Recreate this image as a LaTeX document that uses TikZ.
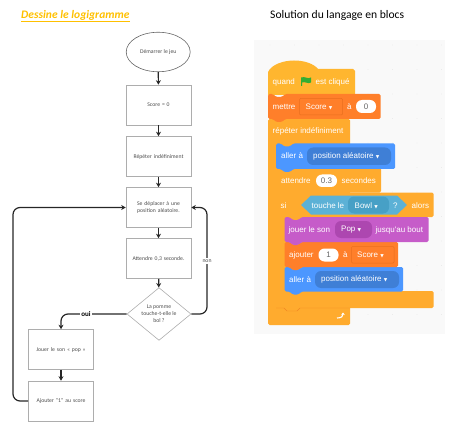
\documentclass[tikz,border=0pt]{standalone}
\usepackage{fontspec}
\setmainfont{Carlito}
\newfontfamily\scr{Liberation Sans}
\newfontfamily\djv{DejaVu Sans}
\newcommand{\dnarrow}{{\djv\fontsize{4.5}{5}\selectfont ▼}}
\usetikzlibrary{shapes.geometric,arrows.meta}
\definecolor{ylw}{HTML}{FFAB2E}
\definecolor{hatc}{HTML}{FFB62F}
\definecolor{orng}{HTML}{FF7F2A}
\definecolor{orngd}{HTML}{E86F1E}
\definecolor{blu}{HTML}{4C97FF}
\definecolor{blud}{HTML}{3F7FD6}
\definecolor{purp}{HTML}{C65CC9}
\definecolor{purpd}{HTML}{AD47B0}
\definecolor{cyn}{HTML}{5CB1D6}
\definecolor{cynd}{HTML}{47A0C6}
\definecolor{ttl}{HTML}{FFC000}
\definecolor{bgc}{HTML}{F9F9F9}
\newcommand{\blk}[5]{% x1 y1 x2 y2 colour
  \fill[#5,rounded corners=1.5pt] (#1,#2) -- ({#1+5},#2) -- ({#1+8},{#2+3}) -- ({#1+14},{#2+3}) -- ({#1+17},#2) -- (#3,#2) -- (#3,#4) -- ({#1+17},#4) -- ({#1+14},{#4+3}) -- ({#1+8},{#4+3}) -- ({#1+5},#4) -- (#1,#4) -- cycle;}
\tikzset{
  fbox/.style={draw=black!32,line width=0.6pt,minimum width=65pt,minimum height=40pt,inner sep=1pt,align=center,text width=58pt,font=\fontsize{5.7}{7.2}\selectfont,text=black!70},
  fell/.style={ellipse,draw=black!60,line width=0.6pt,minimum width=64pt,minimum height=39.5pt,inner sep=0pt,font=\fontsize{5.7}{7.2}\selectfont,text=black!70},
  fdia/.style={diamond,draw=black!32,line width=0.6pt,minimum width=64pt,minimum height=49pt,inner sep=0pt,align=center,font=\fontsize{5.7}{7}\selectfont,text=black!70},
  arr/.style={-{Stealth[length=4.5pt,width=5pt]},line width=1.2pt,black!85},
  st/.style={anchor=west,inner sep=0pt,text=white,font=\scr\fontsize{8}{9}\selectfont},
  val/.style={anchor=center,inner sep=0pt,text=black!60,font=\scr\fontsize{8}{9}\selectfont},
}
\begin{document}
\begin{tikzpicture}[x=1pt,y=-1pt]
\useasboundingbox (0,0) rectangle (454,430);
% titles
\node[anchor=west,inner sep=0pt,text=ttl,font=\fontsize{11.5}{13}\selectfont\bfseries\itshape] (t1) at (21,15.5) {Dessine le logigramme};
\draw[ttl,line width=0.7pt] (21,21.3) -- (129.5,21.3);
\node[anchor=west,inner sep=0pt,font=\fontsize{11.6}{13}\selectfont] (t2) at (270,15.5) {Solution du langage en blocs};
% flowchart
\node[fell] (start) at (158.2,52) {Démarrer le jeu};
\node[fbox] (score) at (158.5,105) {Score = 0};
\node[fbox] (rep) at (158.5,156.5) {Répéter indéfiniment};
\node[fbox] (move) at (158.5,207.5) {Se déplacer à une\\position aléatoire.};
\node[fbox] (wait) at (158.5,258.5) {Attendre 0,3 seconde.};
\node[fdia] (dec) at (159,314) {La pomme\\touche-t-elle le\\bol ?};
\node[fbox] (son) at (61,349.5) {Jouer le son « pop »};
\node[fbox] (add) at (61,401) {Ajouter "1" au score};
\coordinate (ll) at (13,401);
\coordinate (lu) at (13,207.5);
\coordinate (rd) at (207,314);
\coordinate (ru) at (207,207.5);
\draw[arr] (start) -- (score);
\draw[arr] (score) -- (rep);
\draw[arr] (rep) -- (move);
\draw[arr] (move) -- (wait);
\draw[arr] (wait) -- (dec);
\draw[arr] (son) -- (add);
\draw[arr,rounded corners=7pt] (add.west) -- (ll) -- (lu) -- (move.west);
\draw[arr,rounded corners=7pt] (dec.east) -- (rd) -- (ru) -- (move.east);
\draw[arr,rounded corners=7pt] (dec.west) -| (son.north);
\node[fill=white,inner sep=1pt,font=\fontsize{7}{8}\selectfont\bfseries] (oui) at (86,314) {oui};
\node[fill=white,inner sep=1.5pt,font=\fontsize{5.7}{6}\selectfont,text=black!70] (non) at (207,261) {non};
% scratch panel
\fill[bgc] (254,40) rectangle (445,334);
\foreach \i in {0,...,7} \foreach \j in {0,...,11}
  \fill[black!10] ({270+\i*24.5},{45+\j*24.5}) circle (0.4pt);
% C-blocks (drawn back to front)
\fill[ylw,rounded corners=1.5pt] (268,119) rectangle (350,325);
\fill[ylw,rounded corners=1.5pt] (276,192.5) rectangle (433.5,217);
\fill[ylw,rounded corners=1.5pt] (276,217) rectangle (284.5,300);
\fill[ylw,rounded corners=1.5pt] (276,291) rectangle (433.5,308);
\draw[orngd!60!ylw,line width=0.4pt] (276,308) -- (284,308) -- (287,311) -- (297,311) -- (300,308) -- (350,308);
\blk{284.5}{267}{403}{291.5}{blu}
\blk{284.5}{242}{398}{267}{orng}
\blk{284.5}{217}{428.5}{242}{purp}
\blk{276}{168}{381}{192.5}{ylw}
\blk{276}{143.5}{395}{169}{blu}
% hat
\fill[hatc] (268,95) -- (268,72) .. controls (272,64) and (284,60.5) .. (294,60.5) .. controls (305,60.5) and (314,64) .. (318,69) -- (353,69) -- (355,71) -- (355,95) -- cycle;
\blk{268}{94}{380.5}{119}{orng}
% quand
\node[st] (q1) at (272.5,82) {quand};
\fill[green!60!black!80] (301,77.5) -- (301,86) -- (302,86) -- (302,82.5) .. controls (305,81) and (308,84.5) .. (311,82.5) -- (311,77.5) .. controls (308,79.5) and (305,76) .. (301,77.5) -- cycle;
\node[st] (q2) at (315.5,82) {est cliqué};
% mettre
\node[st] (m1) at (272.5,106.5) {mettre};
\draw[orngd,fill=orng,line width=0.5pt,rounded corners=1pt] (299.5,98.5) rectangle (342.5,115);
\node[st] (m2) at (305.5,106.5) {Score \dnarrow};
\node[st] (m3) at (347,106.5) {à};
\fill[white,rounded corners=6pt] (356,100) rectangle (376,113);
\node[val] (m4) at (366,106.5) {0};
% repeter
\node[st] (r1) at (272.5,131.5) {répéter indéfiniment};
% aller 1
\node[st] (a1) at (281,156) {aller à};
\fill[blud,rounded corners=6pt] (307,147.5) rectangle (391,165);
\node[st] (a2) at (313,156) {position aléatoire \dnarrow};
% attendre
\node[st] (w1) at (281,181) {attendre};
\fill[white,rounded corners=6pt] (316,174.5) rectangle (337,187);
\node[val] (w2) at (326.5,181) {0.3};
\node[st] (w3) at (341.5,181) {secondes};
% si
\node[st] (s1) at (280.5,205.5) {si};
\fill[cyn] (301,205) -- (311,195.5) -- (397,195.5) -- (407,205) -- (397,214.5) -- (311,214.5) -- cycle;
\node[st] (s2) at (311.5,205.5) {touche le};
\fill[cynd,rounded corners=6pt] (348,196.5) rectangle (389,213.5);
\node[st] (s3) at (354.5,205.5) {Bowl \dnarrow};
\node[st] (s4) at (393,205.5) {?};
\node[st] (s5) at (411.5,205.5) {alors};
% jouer
\node[st] (j1) at (288.5,230) {jouer le son};
\fill[purpd,rounded corners=6pt] (335,221) rectangle (372,238);
\node[st] (j2) at (341,230) {Pop \dnarrow};
\node[st] (j3) at (375.5,230) {jusqu'au bout};
% ajouter
\node[st] (o1) at (289,255) {ajouter};
\fill[white,rounded corners=6pt] (318.5,248.5) rectangle (338.5,261.5);
\node[val] (o2) at (328.5,255) {1};
\node[st] (o3) at (343,255) {à};
\draw[orngd,fill=orng,line width=0.5pt,rounded corners=1pt] (351.5,246.5) rectangle (394,263);
\node[st] (o4) at (357,255) {Score \dnarrow};
% aller 2
\node[st] (b1) at (289,279.5) {aller à};
\fill[blud,rounded corners=6pt] (315,271) rectangle (399,288);
\node[st] (b2) at (321,279.5) {position aléatoire \dnarrow};
% loop arrow
\draw[white,line width=1.1pt,-{Stealth[length=2.5pt,width=3.5pt]}] (337,318) .. controls (342,318) and (343,316) .. (343,312.5);
\end{tikzpicture}
\end{document}
